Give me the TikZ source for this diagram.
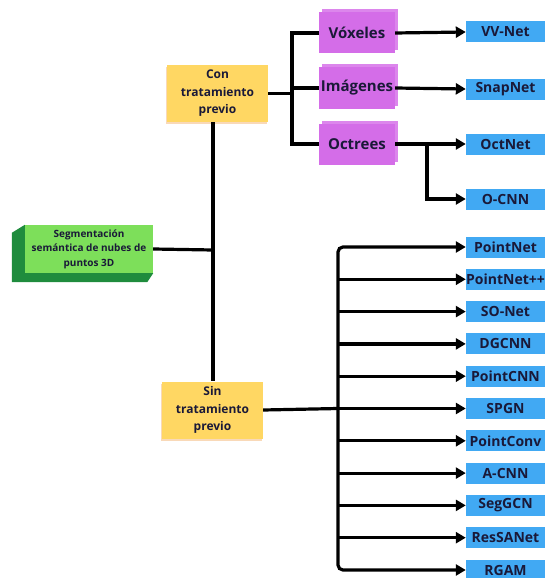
\documentclass[tikz,border=0pt]{standalone}
\usepackage{fontspec}
\setmainfont{Open Sans}
\usetikzlibrary{arrows.meta,shadows}
\definecolor{navy}{HTML}{1A1938}
\definecolor{segfront}{HTML}{7DDF5A}
\definecolor{segside}{HTML}{1F8C3D}
\definecolor{catyellow}{HTML}{FFD763}
\definecolor{datapurple}{HTML}{D46DE8}
\definecolor{datalayer}{HTML}{DC86EC}
\definecolor{netblue}{HTML}{41A9F3}
\begin{document}
\begin{tikzpicture}[x=1pt,y=-1pt,
  line/.style={line width=3.2pt,draw=black},
  arrow/.style={line,-{Triangle[length=10pt,width=11pt]}},
  segbox/.style={fill=segfront,text=navy,font=\bfseries\fontsize{10}{14.5}\selectfont,
    align=center,minimum width=128pt,minimum height=48pt,inner sep=0pt},
  catbox/.style={fill=catyellow,text=navy,font=\bfseries\fontsize{12}{17.5}\selectfont,
    align=center,minimum width=101pt,minimum height=57pt,inner sep=0pt,
    drop shadow={opacity=0.3,fill=orange!70!brown,shadow xshift=-1pt,shadow yshift=-2pt}},
  databox/.style={fill=datapurple,text=navy,font=\bfseries\fontsize{15}{18}\selectfont,
    minimum width=76pt,minimum height=41pt,inner sep=0pt,
    general shadow={fill=datalayer,shadow xshift=3pt,shadow yshift=3pt}},
  netbox/.style={fill=netblue,text=navy,font=\bfseries\fontsize{14}{16}\selectfont,
    minimum width=79pt,minimum height=21pt,inner sep=0pt}]
\useasboundingbox (0,0) rectangle (547,578);

% root
\node[segbox] (seg) at (89,249) {Segmentación\\semántica de nubes de\\puntos 3D};
\fill[segside] (seg.north west) -- ++(-13,8) -- ([shift={(-13,9)}]seg.south west)
  -- ([shift={(-6,9)}]seg.south east) -- (seg.south east) -- (seg.south west) -- cycle;

% two branches
\node[catbox] (con) at (217.5,93.5) {Con\\tratamiento\\previo};
\node[catbox] (sin) at (212.5,410) {Sin\\tratamiento\\previo};
\coordinate (trunk) at (213,250);
\draw[line] (seg.east) -- (trunk);
\draw[line] (trunk |- con.south) -- (trunk |- sin.north);

% with preprocessing
\node[databox] (vox) at (357,33) {Vóxeles};
\node[databox] (img) at (357,88) {Imágenes};
\node[databox] (oct) at (357,144) {Octrees};
\coordinate (br) at (292,89);
\draw[line] (vox.west) -| (br) |- (oct.west);
\draw[line] (img.west) -- (br |- img.west);
\draw[line] (con.east) -- (br |- con.east);

\node[netbox] (vvnet) at (505.5,32) {VV-Net};
\node[netbox] (snapnet) at (505.5,89) {SnapNet};
\node[netbox] (octnet) at (505.5,144) {OctNet};
\node[netbox] (ocnn) at (505.5,199) {O-CNN};
\coordinate (split) at (427,144);
\draw[arrow] (vox.east) -- (vvnet.west);
\draw[arrow] (img.east) -- (snapnet.west);
\draw[arrow] (oct.east) -- (octnet.west);
\draw[arrow] (split) |- (ocnn.west);

% without preprocessing
\node[netbox] (pointnet) at (505.5,247) {PointNet};
\node[netbox] (pointnetpp) at (505.5,279.3) {PointNet++};
\node[netbox] (sonet) at (505.5,311.6) {SO-Net};
\node[netbox] (dgcnn) at (505.5,343.9) {DGCNN};
\node[netbox] (pointcnn) at (505.5,376.2) {PointCNN};
\node[netbox] (spgn) at (505.5,408.5) {SPGN};
\node[netbox] (pointconv) at (505.5,440.8) {PointConv};
\node[netbox] (acnn) at (505.5,473.1) {A-CNN};
\node[netbox] (seggcn) at (505.5,505.4) {SegGCN};
\node[netbox] (ressanet) at (505.5,537.7) {ResSANet};
\node[netbox] (rgam) at (505.5,570) {RGAM};
\coordinate (t2) at (338,408.5);
\draw[line] (sin.east) -- (t2);
\draw[arrow,rounded corners=5pt] (t2) |- (pointnet.west);
\draw[arrow,rounded corners=5pt] (t2) |- (rgam.west);
\draw[arrow] (t2 |- pointnetpp.west) -- (pointnetpp.west);
\draw[arrow] (t2 |- sonet.west) -- (sonet.west);
\draw[arrow] (t2 |- dgcnn.west) -- (dgcnn.west);
\draw[arrow] (t2 |- pointcnn.west) -- (pointcnn.west);
\draw[arrow] (t2) -- (spgn.west);
\draw[arrow] (t2 |- pointconv.west) -- (pointconv.west);
\draw[arrow] (t2 |- acnn.west) -- (acnn.west);
\draw[arrow] (t2 |- seggcn.west) -- (seggcn.west);
\draw[arrow] (t2 |- ressanet.west) -- (ressanet.west);
\end{tikzpicture}
\end{document}
